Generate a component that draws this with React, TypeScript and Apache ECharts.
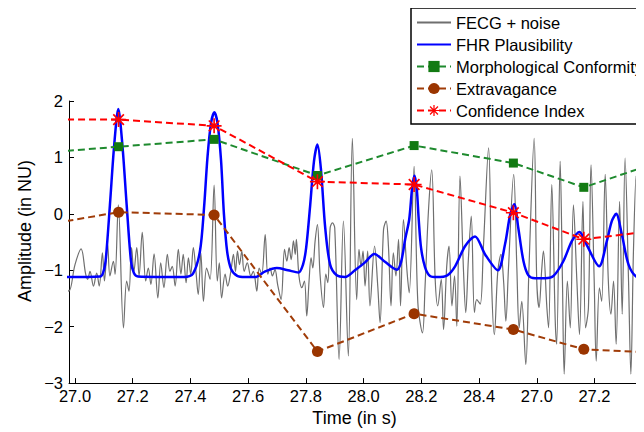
import React, { useEffect, useRef } from "react";
import * as echarts from "echarts";

// ---- Data ----
const xTickValues = [27.0, 27.2, 27.4, 27.6, 27.8, 28.0, 28.2, 28.4, 28.6, 28.8];
const xTickLabels = ["27.0", "27.2", "27.4", "27.6", "27.8", "28.0", "28.2", "28.4", "27.0", "27.2"];
const yTickValues = [-3, -2, -1, 0, 1, 2];
const yTickLabels = ["\u22123", "\u22122", "\u22121", "0", "1", "2"];

const seriesNames = [
  "FECG + noise",
  "FHR Plausibility",
  "Morphological Conformity",
  "Extravagance",
  "Confidence Index",
];

// FECG + noise (time s, amplitude NU)
const fecgNoise: [number, number][] = [
  [26.965, -1.28], [26.979, -1.37], [27.0, -0.9], [27.021, -0.62], [27.037, -1.07], [27.044, -1.16],
  [27.052, -1.02], [27.064, -1.28], [27.075, -1.05], [27.084, -1.28], [27.095, -0.69], [27.102, -1.19],
  [27.113, -0.54], [27.121, -1.1], [27.133, -0.84], [27.139, -1.07], [27.15, 0.16], [27.168, -2.02],
  [27.179, -1.19], [27.187, -1.37], [27.196, -0.6], [27.204, -1.02], [27.214, -0.6], [27.222, -1.1],
  [27.233, -0.33], [27.245, -1.19], [27.254, -0.96], [27.263, -1.25], [27.274, -0.71], [27.287, -1.49],
  [27.297, -0.87], [27.308, -1.31], [27.32, -0.72], [27.329, -1.02], [27.337, -0.93], [27.347, -1.28],
  [27.358, -0.63], [27.367, -1.07], [27.375, -0.72], [27.385, -1.22], [27.393, -0.78], [27.401, -1.07],
  [27.41, -0.6], [27.419, -1.02], [27.427, -1.43], [27.436, -0.69], [27.445, -1.55], [27.456, -0.96],
  [27.468, -1.16], [27.482, 0.51], [27.493, -1.19], [27.5, -0.87], [27.508, -1.49], [27.52, -1.07],
  [27.529, -1.28], [27.54, -1.02], [27.549, -0.72], [27.556, -1.02], [27.563, -0.66], [27.57, -0.9],
  [27.578, -0.66], [27.586, -1.02], [27.597, -0.87], [27.609, -1.1], [27.618, -1.02], [27.63, -1.37],
  [27.638, -0.96], [27.647, -1.07], [27.659, -0.37], [27.668, -1.07], [27.676, -0.96], [27.684, -1.1],
  [27.693, -0.99], [27.702, -1.25], [27.714, -1.52], [27.726, -0.63], [27.734, -0.84], [27.742, -0.6],
  [27.749, -0.81], [27.757, -0.48], [27.763, -0.72], [27.767, -0.45], [27.776, -1.1], [27.786, -1.31],
  [27.795, -1.19], [27.803, -1.81], [27.811, -1.19], [27.818, -0.78], [27.824, -0.96], [27.832, -0.48],
  [27.84, -0.19], [27.849, -1.07], [27.861, -1.66], [27.869, -1.07], [27.876, -1.22], [27.884, -0.25],
  [27.892, -0.16], [27.9, -0.25], [27.915, -2.58], [27.93, -0.13], [27.947, -2.52], [27.961, 1.34],
  [27.976, -1.52], [27.984, -0.63], [27.991, -0.93], [27.998, -0.66], [28.005, -1.28], [28.014, -0.66],
  [28.022, -1.63], [28.038, -0.57], [28.049, -1.28], [28.057, -1.93], [28.069, -0.28], [28.078, -0.13],
  [28.086, -0.57], [28.095, -1.63], [28.103, -0.69], [28.112, -1.1], [28.121, -0.45], [28.128, -1.63],
  [28.138, -0.1], [28.15, -0.99], [28.158, -1.4], [28.175, 0.84], [28.188, -1.58], [28.204, -2.11],
  [28.213, -1.28], [28.225, 0.08], [28.236, 0.78], [28.248, -1.16], [28.257, -1.63], [28.269, -1.16],
  [28.277, -2.05], [28.288, -0.93], [28.296, -0.57], [28.306, -1.63], [28.315, -1.1], [28.323, -1.99],
  [28.334, 0.67], [28.346, -0.99], [28.354, -1.75], [28.363, -0.81], [28.373, -0.04], [28.384, -1.75],
  [28.392, -1.52], [28.404, -1.6], [28.415, -0.6], [28.433, 1.17], [28.444, -1.31], [28.453, -2.14],
  [28.465, -1.02], [28.476, -0.72], [28.485, -1.19], [28.493, -1.9], [28.502, -0.96], [28.52, 0.7],
  [28.531, -0.96], [28.539, -2.02], [28.548, -1.55], [28.562, -2.67], [28.573, -0.96], [28.591, 1.34],
  [28.6, -1.19], [28.608, -1.66], [28.617, -1.0], [28.623, -0.66], [28.635, -1.66], [28.641, -2.02],
  [28.652, 0.52], [28.664, -1.9], [28.669, -2.31], [28.681, 0.93], [28.689, -1.19], [28.695, -2.84],
  [28.706, -1.19], [28.716, -2.02], [28.727, 0.16], [28.739, -1.19], [28.748, -2.14], [28.76, 0.22],
  [28.769, -2.02], [28.779, -1.66], [28.788, 0.87], [28.799, -1.19], [28.806, -2.61], [28.817, -1.31],
  [28.825, -1.55], [28.837, 0.7], [28.848, -1.19], [28.857, -1.78], [28.866, -1.19], [28.875, -2.31],
  [28.887, 0.22], [28.896, -1.78], [28.906, 0.99], [28.918, -1.19], [28.926, -2.84], [28.935, -0.66],
  [28.944, 0.67], [28.954, -1.31], [28.963, -1.55],
];

// FHR Plausibility
const fhrPlausibility: [number, number][] = [
  [26.931, -1.12], [26.979, -1.12], [27.087, -1.11], [27.097, -1.05], [27.106, -0.84], [27.121, 0.16],
  [27.136, 1.23], [27.15, 1.86], [27.164, 1.23], [27.179, 0.16], [27.194, -0.84], [27.204, -1.05],
  [27.218, -1.11], [27.381, -1.12], [27.409, -1.06], [27.433, -0.66], [27.447, 0.1], [27.459, 1.0],
  [27.471, 1.6], [27.483, 1.8], [27.494, 1.6], [27.506, 0.95], [27.516, 0.0], [27.527, -0.66],
  [27.541, -0.98], [27.562, -1.1], [27.589, -1.12], [27.624, -1.12], [27.659, -1.02], [27.699, -0.96],
  [27.738, -1.0], [27.774, -1.04], [27.79, -0.9], [27.801, -0.6], [27.815, 0.16], [27.828, 0.93],
  [27.84, 1.23], [27.852, 0.8], [27.867, -0.25], [27.884, -0.9], [27.907, -1.09], [27.936, -1.12],
  [27.97, -1.0], [28.005, -0.86], [28.037, -0.71], [28.074, -0.85], [28.115, -0.99], [28.13, -0.85],
  [28.144, -0.45], [28.158, -0.1], [28.168, 0.45], [28.176, 0.68], [28.184, 0.45], [28.191, -0.1],
  [28.199, -0.6], [28.213, -0.95], [28.23, -1.1], [28.255, -1.12], [28.29, -1.09], [28.317, -0.93],
  [28.352, -0.57], [28.386, -0.4], [28.421, -0.72], [28.465, -1.0], [28.49, -0.54], [28.508, -0.01],
  [28.522, 0.17], [28.536, -0.25], [28.554, -0.84], [28.571, -1.09], [28.594, -1.14], [28.629, -1.14],
  [28.658, -1.1], [28.692, -0.84], [28.722, -0.48], [28.748, -0.32], [28.773, -0.55], [28.816, -0.93],
  [28.843, -0.48], [28.86, -0.13], [28.875, 0.0], [28.895, -0.37], [28.918, -0.9], [28.947, -1.12],
  [28.976, -1.14],
];

// Beat-wise indices (neighbouring beats outside the window included)
const beatTimes = [26.82, 27.151, 27.482, 27.84, 28.175, 28.519, 28.763, 29.1];
const morphConformity = [1.055, 1.19, 1.32, 0.68, 1.21, 0.9, 0.47, 1.05];
const extravagance = [-0.26, 0.03, -0.02, -2.44, -1.77, -2.05, -2.4, -2.485];
const confidenceIndex = [1.67, 1.67, 1.56, 0.57, 0.52, 0.02, -0.45, -0.245];

const FONT = "Liberation Sans, Arial, Helvetica, sans-serif";
const STAR =
  "path://M0 44.5L100 44.5L100 55.5L0 55.5Z M44.5 0L55.5 0L55.5 100L44.5 100Z " +
  "M18.5 10.7L89.3 81.5L81.5 89.3L10.7 18.5Z M89.3 18.5L18.5 89.3L10.7 81.5L81.5 10.7Z";

const zip = (xs: number[], ys: number[]) => xs.map((x, i) => [x, ys[i]]);

export default function App() {
  const ref = useRef<HTMLDivElement>(null);
  useEffect(() => {
    if (!ref.current) return;
    const chart = echarts.init(ref.current, undefined, { renderer: "svg" });
    const dashed = [7, 4];
    const noMarker = { color: "rgba(0,0,0,0)", borderColor: "rgba(0,0,0,0)", borderWidth: 0 };
    chart.setOption({
      animation: false,
      backgroundColor: "#fff",
      textStyle: { fontFamily: FONT },
      grid: { left: 69, top: 101, width: 571, height: 283, containLabel: false },
      legend: {
        data: [
          { name: seriesNames[0], itemStyle: noMarker },
          { name: seriesNames[1], itemStyle: noMarker },
          { name: seriesNames[2] },
          { name: seriesNames[3] },
          { name: seriesNames[4] },
        ],
        orient: "vertical",
        left: 411,
        top: 8,
        padding: [6, 6, 5, 5],
        itemWidth: 34,
        itemHeight: 14,
        itemGap: 5,
        backgroundColor: "#fff",
        borderColor: "#000",
        borderWidth: 1.5,
        borderRadius: 0,
        textStyle: { fontSize: 16.5, color: "#000", fontFamily: FONT, lineHeight: 16 },
      },
      xAxis: {
        type: "value",
        min: 26.9792,
        max: 28.9577,
        axisLine: { onZero: false, lineStyle: { color: "#000", width: 1 } },
        axisTick: {
          inside: true,
          length: 5,
          customValues: xTickValues,
          lineStyle: { color: "#000" },
        },
        axisLabel: {
          customValues: xTickValues,
          fontSize: 16.5,
          color: "#000",
          margin: 4,
          formatter: (v: number) => {
            const i = xTickValues.findIndex((t) => Math.abs(t - v) < 1e-6);
            return i >= 0 ? xTickLabels[i] : "";
          },
        },
        splitLine: { show: false },
        name: "Time (in s)",
        nameLocation: "middle",
        nameGap: 21,
        nameTextStyle: { fontSize: 18, color: "#000", fontFamily: FONT },
      },
      yAxis: {
        type: "value",
        min: -3,
        max: 2,
        interval: 1,
        axisLine: { show: true, lineStyle: { color: "#000", width: 1 } },
        axisTick: { show: true, inside: true, length: 5, lineStyle: { color: "#000" } },
        axisLabel: {
          fontSize: 16.5,
          color: "#000",
          margin: 6,
          formatter: (v: number) => {
            const i = yTickValues.findIndex((t) => Math.abs(t - v) < 1e-6);
            return i >= 0 ? yTickLabels[i] : "";
          },
        },
        splitLine: { show: false },
      },
      graphic: [
        {
          type: "text",
          x: 25,
          y: 231,
          rotation: Math.PI / 2,
          style: {
            text: "Amplitude (in NU)",
            fontSize: 18,
            fontFamily: FONT,
            fill: "#000",
            align: "center",
            verticalAlign: "middle",
            textAlign: "center",
            textVerticalAlign: "middle",
          },
        },
      ],
      series: [
        {
          name: seriesNames[0],
          type: "line",
          data: fecgNoise,
          symbol: "none",
          smooth: 0.35,
          lineStyle: { color: "#6f6f6f", width: 1.2 },
          itemStyle: { color: "#6f6f6f" },
          z: 1,
        },
        {
          name: seriesNames[1],
          type: "line",
          data: fhrPlausibility,
          symbol: "none",
          smooth: 0.3,
          lineStyle: { color: "#0000ff", width: 2.5 },
          itemStyle: { color: "#0000ff" },
          z: 2,
        },
        {
          name: seriesNames[2],
          type: "line",
          data: zip(beatTimes, morphConformity),
          symbol: "rect",
          symbolSize: 9,
          lineStyle: { color: "#1e8a2e", width: 2, type: dashed },
          itemStyle: { color: "#127a12" },
          z: 3,
        },
        {
          name: seriesNames[3],
          type: "line",
          data: zip(beatTimes, extravagance),
          symbol: "circle",
          symbolSize: 11,
          lineStyle: { color: "#a03c08", width: 2, type: dashed },
          itemStyle: { color: "#9a3500" },
          z: 4,
        },
        {
          name: seriesNames[4],
          type: "line",
          data: zip(beatTimes, confidenceIndex),
          symbol: STAR,
          symbolSize: 15,
          lineStyle: { color: "#ff0000", width: 2, type: dashed },
          itemStyle: { color: "#ff0000" },
          z: 5,
        },
      ],
    });
    return () => chart.dispose();
  }, []);
  return <div ref={ref} style={{ width: 644, height: 432, marginLeft: -8, marginTop: -8 }} />;
}
